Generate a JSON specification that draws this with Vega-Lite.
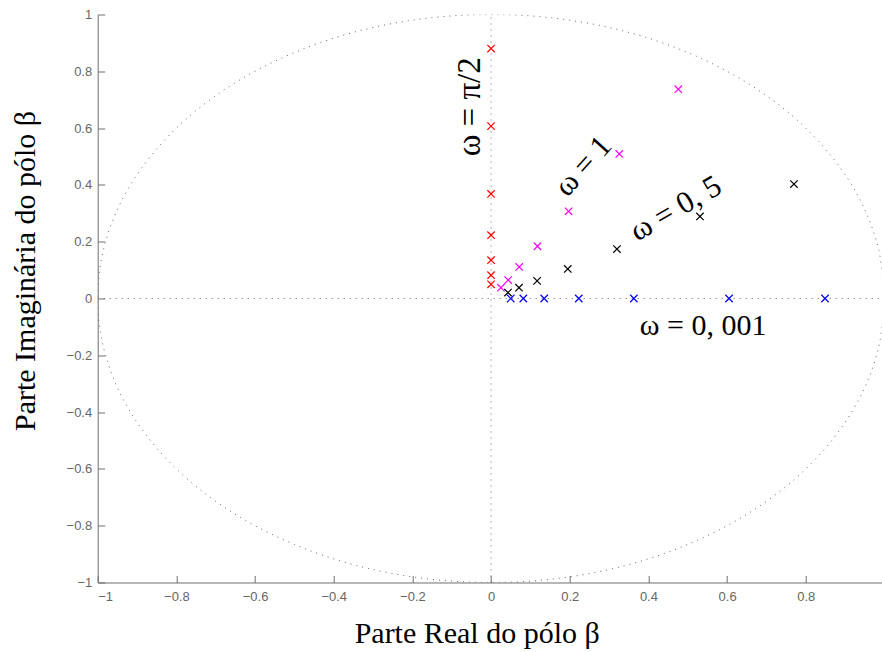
{
  "$schema": "https://vega.github.io/schema/vega-lite/v6.json",
  "autosize": {"type": "none"},
  "width": 784,
  "height": 568,
  "padding": {"left": 97.7, "top": 14.5, "right": 0, "bottom": 70},
  "background": "white",
  "config": {
    "view": {"stroke": null},
    "axis": {
      "grid": false,
      "domainColor": "#6e6e6e",
      "tickColor": "#6e6e6e",
      "labelColor": "#666666",
      "labelFont": "Liberation Sans",
      "labelFontSize": 13,
      "titleFont": "Liberation Serif",
      "titleFontWeight": "normal",
      "titleFontSize": 30,
      "titleColor": "black",
      "tickSize": -7
    }
  },
  "datasets": {
    "pts": [
      {"re": 0, "im": 0.88, "g": "pi2"},
      {"re": 0, "im": 0.607, "g": "pi2"},
      {"re": 0, "im": 0.368, "g": "pi2"},
      {"re": 0, "im": 0.223, "g": "pi2"},
      {"re": 0, "im": 0.135, "g": "pi2"},
      {"re": 0, "im": 0.082, "g": "pi2"},
      {"re": 0, "im": 0.05, "g": "pi2"},
      {"re": 0.05, "im": 0, "g": "w0001"},
      {"re": 0.082, "im": 0, "g": "w0001"},
      {"re": 0.135, "im": 0, "g": "w0001"},
      {"re": 0.223, "im": 0, "g": "w0001"},
      {"re": 0.363, "im": 0, "g": "w0001"},
      {"re": 0.605, "im": 0, "g": "w0001"},
      {"re": 0.849, "im": 0, "g": "w0001"},
      {"re": 0.476, "im": 0.737, "g": "w1"},
      {"re": 0.326, "im": 0.509, "g": "w1"},
      {"re": 0.197, "im": 0.307, "g": "w1"},
      {"re": 0.118, "im": 0.184, "g": "w1"},
      {"re": 0.0715, "im": 0.111, "g": "w1"},
      {"re": 0.0436, "im": 0.065, "g": "w1"},
      {"re": 0.025, "im": 0.038, "g": "w1"},
      {"re": 0.77, "im": 0.403, "g": "w05"},
      {"re": 0.531, "im": 0.289, "g": "w05"},
      {"re": 0.32, "im": 0.174, "g": "w05"},
      {"re": 0.195, "im": 0.104, "g": "w05"},
      {"re": 0.117, "im": 0.062, "g": "w05"},
      {"re": 0.071, "im": 0.038, "g": "w05"},
      {"re": 0.043, "im": 0.021, "g": "w05"}
    ],
    "circle": [
      {"k": 0, "cx": 1, "cy": 0},
      {"k": 1, "cx": 0.985, "cy": 0.174},
      {"k": 2, "cx": 0.94, "cy": 0.342},
      {"k": 3, "cx": 0.866, "cy": 0.5},
      {"k": 4, "cx": 0.766, "cy": 0.643},
      {"k": 5, "cx": 0.643, "cy": 0.766},
      {"k": 6, "cx": 0.5, "cy": 0.866},
      {"k": 7, "cx": 0.342, "cy": 0.94},
      {"k": 8, "cx": 0.174, "cy": 0.985},
      {"k": 9, "cx": 0, "cy": 1},
      {"k": 10, "cx": -0.174, "cy": 0.985},
      {"k": 11, "cx": -0.342, "cy": 0.94},
      {"k": 12, "cx": -0.5, "cy": 0.866},
      {"k": 13, "cx": -0.643, "cy": 0.766},
      {"k": 14, "cx": -0.766, "cy": 0.643},
      {"k": 15, "cx": -0.866, "cy": 0.5},
      {"k": 16, "cx": -0.94, "cy": 0.342},
      {"k": 17, "cx": -0.985, "cy": 0.174},
      {"k": 18, "cx": -1, "cy": 0},
      {"k": 19, "cx": -0.985, "cy": -0.174},
      {"k": 20, "cx": -0.94, "cy": -0.342},
      {"k": 21, "cx": -0.866, "cy": -0.5},
      {"k": 22, "cx": -0.766, "cy": -0.643},
      {"k": 23, "cx": -0.643, "cy": -0.766},
      {"k": 24, "cx": -0.5, "cy": -0.866},
      {"k": 25, "cx": -0.342, "cy": -0.94},
      {"k": 26, "cx": -0.174, "cy": -0.985},
      {"k": 27, "cx": 0, "cy": -1},
      {"k": 28, "cx": 0.174, "cy": -0.985},
      {"k": 29, "cx": 0.342, "cy": -0.94},
      {"k": 30, "cx": 0.5, "cy": -0.866},
      {"k": 31, "cx": 0.643, "cy": -0.766},
      {"k": 32, "cx": 0.766, "cy": -0.643},
      {"k": 33, "cx": 0.866, "cy": -0.5},
      {"k": 34, "cx": 0.94, "cy": -0.342},
      {"k": 35, "cx": 0.985, "cy": -0.174},
      {"k": 36, "cx": 1, "cy": 0}
    ],
    "cross": [
      {"x1": -1, "x2": 1, "y1": 0, "y2": 0},
      {"x1": 0, "x2": 0, "y1": -1, "y2": 1}
    ],
    "labels": [
      {"t": "ω = π/2", "lx": -0.054, "ly": 0.675},
      {"t": "ω = 1", "lx": 0.235, "ly": 0.465},
      {"t": "ω = 0, 5", "lx": 0.47, "ly": 0.315},
      {"t": "ω = 0, 001", "lx": 0.539, "ly": -0.097}
    ]
  },
  "layer": [
    {
      "data": {"name": "cross"},
      "mark": {"type": "rule", "strokeDash": [1, 5], "color": "#666666", "strokeWidth": 1, "clip": true},
      "encoding": {
        "x": {"field": "x1", "type": "quantitative", "scale": {"domain": [-1, 0.993], "nice": false, "zero": false},
          "axis": {"values": [-1, -0.8, -0.6, -0.4, -0.2, 0, 0.2, 0.4, 0.6, 0.8], "title": "Parte Real do pólo β", "titlePadding": 15, "labelPadding": 15, "titleX": 379, "format": "~g"}},
        "x2": {"field": "x2"},
        "y": {"field": "y1", "type": "quantitative", "scale": {"domain": [-1, 1], "nice": false, "zero": false},
          "axis": {"values": [-1, -0.8, -0.6, -0.4, -0.2, 0, 0.2, 0.4, 0.6, 0.8, 1], "title": "Parte Imaginária do pólo β", "titlePadding": 26, "labelPadding": 13, "titleY": 256, "format": "~g"}},
        "y2": {"field": "y2"}
      }
    },
    {
      "data": {"name": "circle"},
      "mark": {"type": "line", "strokeDash": [1, 5], "color": "#666666", "strokeWidth": 1, "interpolate": "cardinal", "clip": true},
      "encoding": {
        "x": {"field": "cx", "type": "quantitative"},
        "y": {"field": "cy", "type": "quantitative"},
        "order": {"field": "k", "type": "quantitative"}
      }
    },
    {
      "data": {"name": "pts"},
      "mark": {"type": "point", "shape": "M-1,-1L1,1M-1,1L1,-1", "filled": false, "size": 55, "strokeWidth": 1.2, "opacity": 1, "clip": true},
      "encoding": {
        "x": {"field": "re", "type": "quantitative"},
        "y": {"field": "im", "type": "quantitative"},
        "color": {"field": "g", "type": "nominal", "legend": null,
          "scale": {"domain": ["pi2", "w0001", "w1", "w05"], "range": ["#ff0000", "#0000ff", "#ff00ff", "#000000"]}}
      }
    },
    {
      "data": {"name": "labels"},
      "transform": [{"filter": "datum.t === 'ω = π/2'"}],
      "mark": {"type": "text", "font": "Liberation Serif", "fontSize": 33, "angle": 270, "align": "center", "baseline": "middle", "color": "black"},
      "encoding": {
        "x": {"field": "lx", "type": "quantitative"},
        "y": {"field": "ly", "type": "quantitative"},
        "text": {"field": "t"}
      }
    },
    {
      "data": {"name": "labels"},
      "transform": [{"filter": "datum.t === 'ω = 1'"}],
      "mark": {"type": "text", "font": "Liberation Serif", "fontSize": 31, "angle": 312, "align": "center", "baseline": "middle", "color": "black"},
      "encoding": {
        "x": {"field": "lx", "type": "quantitative"},
        "y": {"field": "ly", "type": "quantitative"},
        "text": {"field": "t"}
      }
    },
    {
      "data": {"name": "labels"},
      "transform": [{"filter": "datum.t === 'ω = 0, 5'"}],
      "mark": {"type": "text", "font": "Liberation Serif", "fontSize": 31, "angle": 330, "align": "center", "baseline": "middle", "color": "black"},
      "encoding": {
        "x": {"field": "lx", "type": "quantitative"},
        "y": {"field": "ly", "type": "quantitative"},
        "text": {"field": "t"}
      }
    },
    {
      "data": {"name": "labels"},
      "transform": [{"filter": "datum.t === 'ω = 0, 001'"}],
      "mark": {"type": "text", "font": "Liberation Serif", "fontSize": 30, "align": "center", "baseline": "middle", "color": "black"},
      "encoding": {
        "x": {"field": "lx", "type": "quantitative"},
        "y": {"field": "ly", "type": "quantitative"},
        "text": {"field": "t"}
      }
    }
  ]
}
